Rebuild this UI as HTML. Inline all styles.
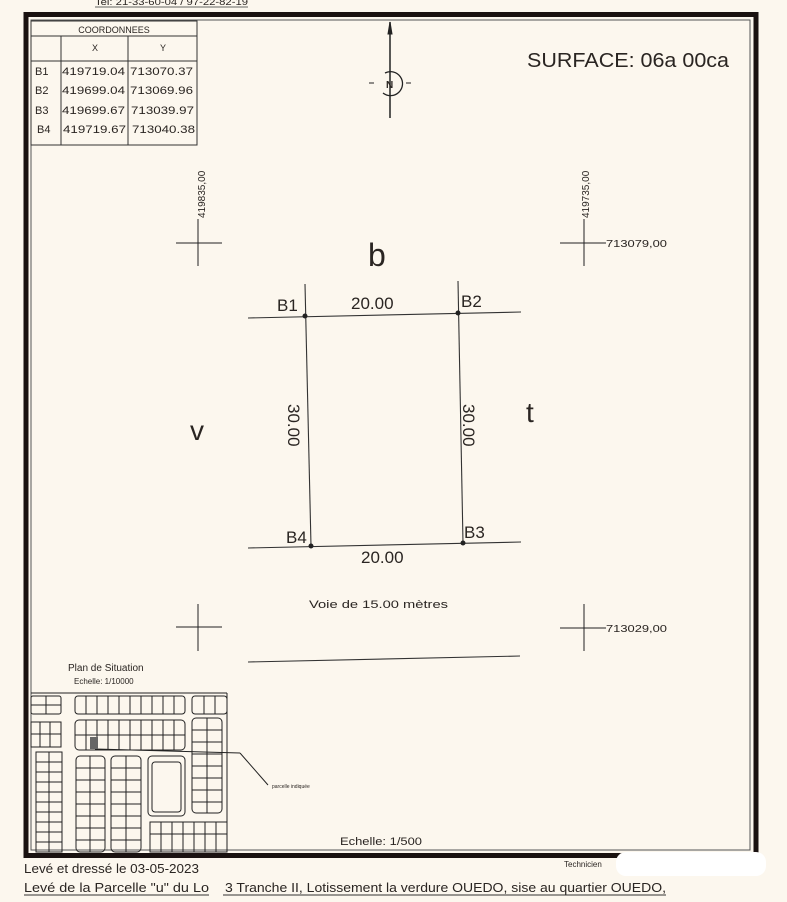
<!DOCTYPE html>
<html><head><meta charset="utf-8"><style>
html,body{margin:0;padding:0;background:#fcf7ee;}
svg{display:block}
text{font-family:"Liberation Sans",sans-serif;fill:#2a2522}
</style></head><body>
<svg width="787" height="902" viewBox="0 0 787 902" xmlns="http://www.w3.org/2000/svg">
<rect width="787" height="902" fill="#fcf7ee"/>
<text x="95" y="5" font-size="9" textLength="153" lengthAdjust="spacingAndGlyphs">Tel: 21-33-60-04 / 97-22-82-19</text>
<line x1="95" y1="7" x2="248" y2="7" stroke="#333" stroke-width="0.8"/>
<rect x="26" y="14.5" width="730" height="841" fill="none" stroke="#1a1210" stroke-width="5"/>
<rect x="31" y="20" width="719" height="830" fill="none" stroke="#555" stroke-width="1"/>
<g stroke="#333" stroke-width="1" fill="none">
<rect x="31" y="21" width="166" height="124"/>
<line x1="31" y1="36" x2="197" y2="36"/>
<line x1="31" y1="61" x2="197" y2="61"/>
<line x1="61" y1="36" x2="61" y2="145"/>
<line x1="128" y1="36" x2="128" y2="145"/>
</g>
<g font-size="11">
<text x="114" y="33" text-anchor="middle" font-size="9">COORDONNEES</text>
<text x="95" y="51" text-anchor="middle" font-size="9">X</text>
<text x="163" y="51" text-anchor="middle" font-size="9">Y</text>
<text x="35" y="75">B1</text><text x="62" y="75" textLength="63" lengthAdjust="spacingAndGlyphs">419719.04</text><text x="130" y="75" textLength="63" lengthAdjust="spacingAndGlyphs">713070.37</text>
<text x="35" y="94">B2</text><text x="62" y="94" textLength="63" lengthAdjust="spacingAndGlyphs">419699.04</text><text x="130" y="94" textLength="63" lengthAdjust="spacingAndGlyphs">713069.96</text>
<text x="35" y="114">B3</text><text x="62" y="114" textLength="63" lengthAdjust="spacingAndGlyphs">419699.67</text><text x="131" y="114" textLength="63" lengthAdjust="spacingAndGlyphs">713039.97</text>
<text x="37" y="133">B4</text><text x="63" y="133" textLength="63" lengthAdjust="spacingAndGlyphs">419719.67</text><text x="132" y="133" textLength="63" lengthAdjust="spacingAndGlyphs">713040.38</text>
</g>
<g stroke="#222" fill="none">
<line x1="390" y1="22" x2="390" y2="118" stroke-width="1.5"/>
<path d="M390,22 l-2,12 h4z" fill="#222"/>
<path d="M385,73 A12,12 0 1,1 383,93" stroke-width="1.3"/>
<line x1="369" y1="83" x2="374" y2="83"/><line x1="406" y1="83" x2="411" y2="83"/>
</g>
<text x="386" y="88" font-size="10" font-weight="bold">N</text>
<text x="527" y="67" font-size="20" textLength="202" lengthAdjust="spacingAndGlyphs">SURFACE: 06a 00ca</text>
<g stroke="#222" stroke-width="1">
<line x1="176" y1="243" x2="222" y2="243"/><line x1="198" y1="219" x2="198" y2="266"/>
<line x1="560" y1="243" x2="606" y2="243"/><line x1="584" y1="219" x2="584" y2="266"/>
<line x1="176" y1="627" x2="222" y2="627"/><line x1="198" y1="604" x2="198" y2="651"/>
<line x1="560" y1="628" x2="606" y2="628"/><line x1="584" y1="604" x2="584" y2="651"/>
</g>
<text font-size="10" transform="translate(205,218) rotate(-90)">419835,00</text>
<text font-size="10" transform="translate(589,218) rotate(-90)">419735,00</text>
<text x="606" y="247" font-size="10" textLength="61" lengthAdjust="spacingAndGlyphs">713079,00</text>
<text x="606" y="632" font-size="10" textLength="61" lengthAdjust="spacingAndGlyphs">713029,00</text>
<g stroke="#333" stroke-width="1.1" fill="none">
<line x1="248" y1="318" x2="521" y2="312"/>
<line x1="248" y1="548" x2="521" y2="542"/>
<line x1="305" y1="284" x2="311" y2="546"/>
<line x1="458" y1="281" x2="463" y2="543"/>
<line x1="248" y1="662" x2="520" y2="656"/>
</g>
<g fill="#222"><circle cx="305" cy="316" r="2.5"/><circle cx="458" cy="313" r="2.5"/><circle cx="463" cy="543" r="2.5"/><circle cx="311" cy="546" r="2.5"/></g>
<text x="368" y="266" font-size="32">b</text>
<text x="190" y="440" font-size="28">v</text>
<text x="526" y="422" font-size="28">t</text>
<g font-size="17">
<text x="277" y="311">B1</text><text x="461" y="307">B2</text>
<text x="464" y="538">B3</text><text x="286" y="543">B4</text>
<text x="351" y="309">20.00</text><text x="361" y="563">20.00</text>
<text transform="translate(288,404) rotate(90)">30.00</text>
<text transform="translate(463,404) rotate(90)">30.00</text>
</g>
<text x="309" y="608" font-size="11" textLength="139" lengthAdjust="spacingAndGlyphs">Voie de  15.00  mètres</text>
<text x="68" y="671" font-size="10">Plan de Situation</text>
<text x="74" y="684" font-size="8">Echelle: 1/10000</text>
<text x="340" y="845" font-size="11" textLength="82" lengthAdjust="spacingAndGlyphs">Echelle: 1/500</text>
<g stroke="#222" stroke-width="1" fill="none">
<line x1="31" y1="693" x2="227" y2="693"/><line x1="227" y1="693" x2="227" y2="852"/>
<rect x="31" y="696" width="30" height="18" rx="2"/><line x1="46" y1="696" x2="46" y2="714"/><line x1="31" y1="705" x2="61" y2="705"/>
<rect x="75" y="696" width="110" height="18" rx="3"/>
<path d="M86,696v18M97,696v18M108,696v18M119,696v18M130,696v18M141,696v18M152,696v18M163,696v18M174,696v18"/>
<rect x="192" y="696" width="35" height="18" rx="3"/><path d="M204,696v18M215,696v18"/>
<rect x="31" y="722" width="30" height="25"/><path d="M40,722v25M50,722v25M31,734h30"/>
<rect x="75" y="720" width="110" height="30" rx="4"/><path d="M75,735h110M86,720v30M97,720v30M108,720v30M119,720v30M130,720v30M141,720v30M152,720v30M163,720v30M174,720v30"/>
<rect x="192" y="718" width="30" height="95" rx="4"/><path d="M207,718v95M192,730h30M192,742h30M192,754h30M192,766h30M192,778h30M192,790h30M192,802h30"/>
<rect x="36" y="752" width="26" height="100"/><path d="M49,752v100M36,762h26M36,772h26M36,782h26M36,792h26M36,802h26M36,812h26M36,822h26M36,832h26M36,842h26"/>
<rect x="76" y="756" width="29" height="96" rx="4"/><path d="M90,756v96M76,768h29M76,780h29M76,792h29M76,804h29M76,816h29M76,828h29M76,840h29"/>
<rect x="111" y="756" width="30" height="96" rx="4"/><path d="M126,756v96M111,768h30M111,780h30M111,792h30M111,804h30M111,816h30M111,828h30M111,840h30"/>
<rect x="148" y="756" width="37" height="60" rx="4"/><rect x="152" y="762" width="29" height="50" rx="3"/>
<rect x="150" y="822" width="77" height="30"/><path d="M150,834h77M161,822v30M172,822v30M183,822v30M194,822v30M205,822v30M216,822v30"/>
<line x1="95" y1="749" x2="240" y2="753"/><line x1="240" y1="753" x2="268" y2="785"/>
</g>
<rect x="90" y="737" width="8" height="12" fill="#666"/>
<text x="272" y="788" font-size="5">parcelle indiquée</text>
<text x="24" y="873" font-size="12.5" textLength="175" lengthAdjust="spacingAndGlyphs">Levé et dressé le 03-05-2023</text>
<text x="564" y="867" font-size="8">Technicien</text>
<rect x="616" y="852" width="150" height="24" rx="10" fill="#ffffff"/>
<text x="24" y="892" font-size="12.5" textLength="185" lengthAdjust="spacingAndGlyphs">Levé de la Parcelle "u" du Lo</text>
<text x="225" y="892" font-size="12.5" textLength="441" lengthAdjust="spacingAndGlyphs">3 Tranche II, Lotissement la verdure OUEDO, sise au quartier OUEDO,</text>
<line x1="24" y1="895" x2="666" y2="895" stroke="#333"/>
<rect x="209" y="880" width="14" height="17" fill="#fcf7ee"/>
</svg>
</body></html>
